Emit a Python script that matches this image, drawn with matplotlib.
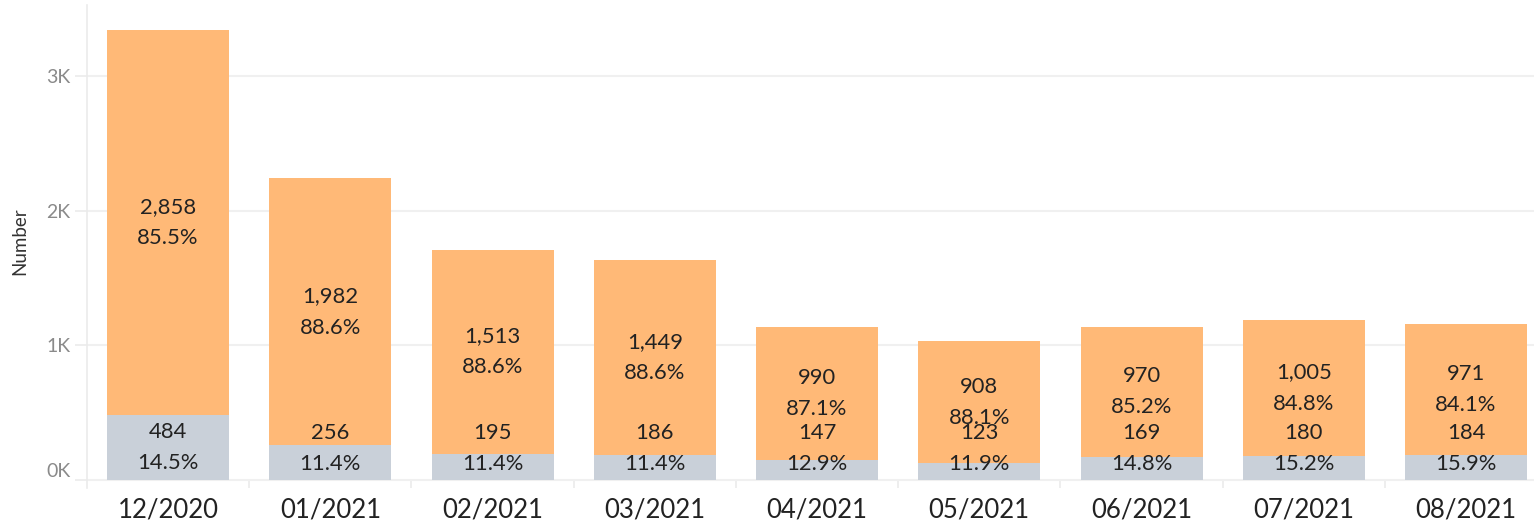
import numpy as np
import matplotlib
matplotlib.use("Agg")
import matplotlib.pyplot as plt
from matplotlib.ticker import FuncFormatter

plt.rcParams['font.family'] = ['Lato', 'DejaVu Sans']

# data
months = ['12/2020', '01/2021', '02/2021', '03/2021', '04/2021',
          '05/2021', '06/2021', '07/2021', '08/2021']
orange_vals = [2858, 1982, 1513, 1449, 990, 908, 970, 1005, 971]
grey_vals = [484, 256, 195, 186, 147, 123, 169, 180, 184]

orange = '#FFB977'
grey = '#C9D0D9'
txt = '#222222'

W, H = 1534, 522
fig = plt.figure(figsize=(W / 100, H / 100), dpi=100)
ax = fig.add_axes([87 / W, 1 - 488 / H, 1 - 87 / W, (488 - 5) / H])

x = np.arange(len(months))
og = np.array(orange_vals)
gr = np.array(grey_vals)
tot = og + gr

ax.bar(x, gr, width=0.752, color=grey, zorder=2)
ax.bar(x, og, bottom=gr, width=0.752, color=orange, zorder=2)

ax.set_xlim(-0.5, (W - 168) / 162.25)
ax.set_ylim(-60, 3526)

fs = 15.8
# labels
for i in range(len(months)):
    yc = gr[i] + og[i] / 2
    ax.annotate(f'{og[i]:,}', (x[i], yc), xytext=(0, 11.2), textcoords='offset points',
                ha='center', va='center', fontsize=fs, color=txt, zorder=3)
    ax.annotate(f'{og[i] / tot[i] * 100:.1f}%', (x[i], yc), xytext=(0, -11.2),
                textcoords='offset points', ha='center', va='center', fontsize=fs,
                color=txt, zorder=3)
    yg = max(gr[i] / 2, 230)
    ax.annotate(f'{gr[i]:,}', (x[i], yg), xytext=(0, 11.2), textcoords='offset points',
                ha='center', va='center', fontsize=fs, color=txt, zorder=3)
    ax.annotate(f'{gr[i] / tot[i] * 100:.1f}%', (x[i], yg), xytext=(0, -11.2),
                textcoords='offset points', ha='center', va='center', fontsize=fs,
                color=txt, zorder=3)

# axes styling
for s in ['top', 'right', 'bottom']:
    ax.spines[s].set_visible(False)
ax.spines['left'].set_color('#EBEBEB')
ax.spines['left'].set_linewidth(1.2)

ax.set_yticks([0, 1000, 2000, 3000])
ax.yaxis.set_major_formatter(FuncFormatter(lambda v, p: f'{int(v / 1000)}K'))
ax.tick_params(axis='y', length=9, width=1.2, color='#EBEBEB', pad=3,
               labelsize=14, labelcolor='#8A8A8A')
ax.grid(axis='y', color='#F0F0F0', linewidth=1.5, zorder=0)
for lab in ax.get_yticklabels():
    if lab.get_text() == '0K':
        lab.set_va('bottom')

ax.set_xticks(x)
ax.set_xticklabels(months)
ax.tick_params(axis='x', length=0, pad=7, labelsize=18.5, labelcolor=txt)

# category dividers below the baseline
ax.vlines(np.arange(len(months)) + 0.5, -60, 0, color='#EBEBEB', linewidth=1.2, zorder=1)

fig.text(20 / W, 1 - 241 / H, 'Number', rotation=90, ha='center', va='center',
         fontsize=13.5, color='#333333')

fig.savefig('out.png', dpi=100)
